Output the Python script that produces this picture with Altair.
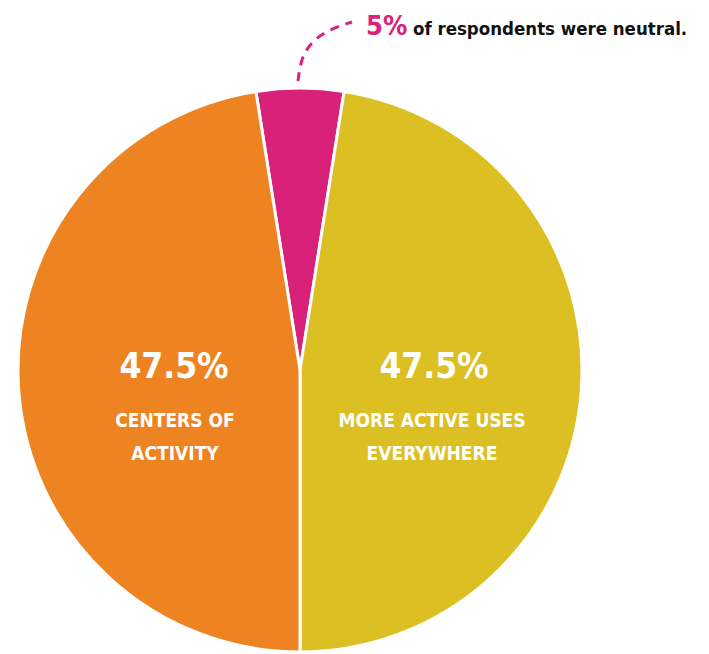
import altair as alt
import pandas as pd
import math

# Data
categories = ["Neutral", "More active uses everywhere", "Centers of activity"]
shares = [5, 47.5, 47.5]
colors = ["#D9217A", "#DCBF22", "#EE8322"]

# annotation curve (page pixel coordinates)
curve_x = [298, 301, 312, 330, 352]
curve_y = [81, 58, 41, 29, 22]

FONT = "'DejaVu Sans Condensed', 'Liberation Sans Narrow', Roboto, sans-serif"
W, H = 693, 646

pie_df = pd.DataFrame({"cat": categories, "share": shares, "order": [0, 1, 2]})

xs = alt.Scale(domain=[8, 8 + W], nice=False, zero=False)
ys = alt.Scale(domain=[8 + H, 8], nice=False, zero=False)

pie = alt.Chart(pie_df).mark_arc(radius=282, stroke="white", strokeWidth=3).encode(
    theta=alt.Theta("share:Q", stack=True,
                    scale=alt.Scale(range=[-0.05 * math.pi, 1.95 * math.pi])),
    order=alt.Order("order:Q"),
    color=alt.Color("cat:N", scale=alt.Scale(domain=categories, range=colors), legend=None),
    x=alt.value(292),
    y=alt.value(362),
)

curve_df = pd.DataFrame({"x": curve_x, "y": curve_y, "i": range(len(curve_x))})
curve = alt.Chart(curve_df).mark_line(
    color="#D9217A", strokeWidth=3, strokeDash=[9, 7], interpolate="basis"
).encode(
    x=alt.X("x:Q", scale=xs, axis=None),
    y=alt.Y("y:Q", scale=ys, axis=None),
    order="i:Q",
)

labels_df = pd.DataFrame({
    "text": ["47.5%", "CENTERS OF", "ACTIVITY", "47.5%", "MORE ACTIVE USES", "EVERYWHERE"],
    "x": [174, 175, 175, 434, 432, 432],
    "y": [378, 427, 460, 378, 427, 460],
    "size": [35, 19, 19, 35, 19, 19],
})
labels = alt.Chart(labels_df).mark_text(
    font=FONT, fontWeight="bold", color="white", baseline="alphabetic", align="center"
).encode(
    x=alt.X("x:Q", scale=xs, axis=None),
    y=alt.Y("y:Q", scale=ys, axis=None),
    text="text:N",
    size=alt.Size("size:Q", scale=None, legend=None),
)

top1 = alt.Chart(pd.DataFrame({"t": ["5%"], "x": [366], "y": [35]})).mark_text(
    font=FONT, fontWeight="bold", color="#D9217A", fontSize=27, align="left", baseline="alphabetic"
).encode(x=alt.X("x:Q", scale=xs, axis=None), y=alt.Y("y:Q", scale=ys, axis=None), text="t:N")

top2 = alt.Chart(pd.DataFrame({"t": ["of respondents were neutral."], "x": [413], "y": [35]})).mark_text(
    font=FONT, fontWeight="bold", color="#111111", fontSize=18.5, align="left", baseline="alphabetic"
).encode(x=alt.X("x:Q", scale=xs, axis=None), y=alt.Y("y:Q", scale=ys, axis=None), text="t:N")

chart = alt.layer(pie, curve, labels, top1, top2).properties(
    width=W, height=H, padding=0, autosize=alt.AutoSizeParams(type="none")
).configure_view(stroke=None)

chart.save("out.html", embed_options={"renderer": "svg", "actions": False})
